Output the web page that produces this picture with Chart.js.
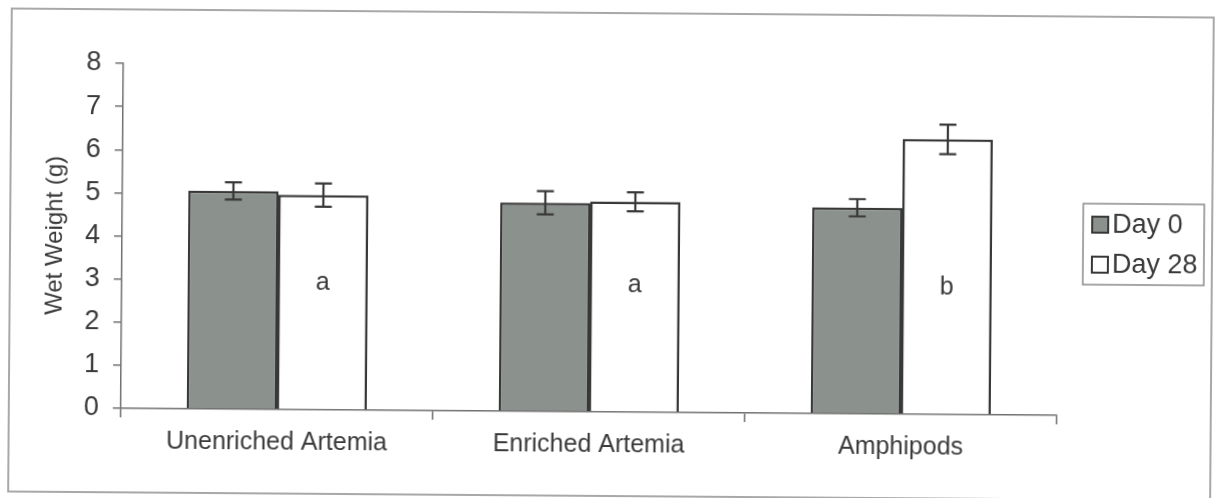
<!DOCTYPE html>
<html>
<head>
<meta charset="utf-8">
<script src="https://cdn.jsdelivr.net/npm/chart.js@4/dist/chart.umd.min.js"></script>
<style>
  html, body { margin: 0; padding: 0; background: #fff; overflow: hidden; }
  #wrap { width: 1217px; height: 498px; transform: rotate(0.43deg); transform-origin: 608px 249px; }
</style>
</head>
<body>
<div id="wrap"><canvas id="chart" width="1217" height="498"></canvas></div>
<script>
// data
const categories = ['Unenriched Artemia', 'Enriched Artemia', 'Amphipods'];
const day0 = [5.06, 4.84, 4.78];
const day0Err = [0.2, 0.27, 0.2];
const day28 = [4.98, 4.88, 6.38];
const day28Err = [0.27, 0.22, 0.34];
const letters = ['a', 'a', 'b'];
const yTicks = [0, 1, 2, 3, 4, 5, 6, 7, 8];

const ink = '#383838';
const axisCol = '#707070';
const textCol = '#3a3a3a';
const fontFam = '"Liberation Sans", Arial, sans-serif';

// error bars, drawn through the y scale
const errorBars = {
    id: 'errorBars',
    afterDatasetsDraw(chart) {
        const ctx = chart.ctx;
        const y = chart.scales.y;
        const errs = [day0Err, day28Err];
        ctx.save();
        ctx.strokeStyle = ink;
        ctx.lineWidth = 2.2;
        chart.data.datasets.forEach((ds, di) => {
            chart.getDatasetMeta(di).data.forEach((bar, i) => {
                const v = ds.data[i], e = errs[di][i];
                const top = y.getPixelForValue(v + e);
                const bot = y.getPixelForValue(v - e);
                ctx.beginPath();
                ctx.moveTo(bar.x, top); ctx.lineTo(bar.x, bot);
                ctx.moveTo(bar.x - 8.5, top); ctx.lineTo(bar.x + 8.5, top);
                ctx.moveTo(bar.x - 8.5, bot); ctx.lineTo(bar.x + 8.5, bot);
                ctx.stroke();
            });
        });
        ctx.restore();
    }
};

// significance letters inside the Day 28 bars
const letterLabels = {
    id: 'letterLabels',
    afterDatasetsDraw(chart) {
        const ctx = chart.ctx;
        const y = chart.scales.y.getPixelForValue(2.95);
        ctx.save();
        ctx.fillStyle = textCol;
        ctx.font = '25px ' + fontFam;
        ctx.textAlign = 'center';
        ctx.textBaseline = 'middle';
        chart.getDatasetMeta(1).data.forEach((bar, i) => {
            ctx.fillText(letters[i], bar.x, y);
        });
        ctx.restore();
    }
};

// boxed legend and outer frame
const frameLegend = {
    id: 'frameLegend',
    afterDraw(chart) {
        const ctx = chart.ctx;
        ctx.save();
        ctx.strokeStyle = '#a8a8a8';
        ctx.lineWidth = 2;
        ctx.strokeRect(10, 13, 1202, 483);

        ctx.strokeStyle = '#8a8a8a';
        ctx.lineWidth = 1.5;
        ctx.strokeRect(1083, 200, 121, 81);
        ctx.font = '27px ' + fontFam;
        ctx.textBaseline = 'middle';
        chart.data.datasets.forEach((ds, i) => {
            const cy = 221 + i * 40;
            ctx.fillStyle = ds.backgroundColor;
            ctx.fillRect(1092, cy - 8, 16, 16);
            ctx.strokeStyle = ink;
            ctx.lineWidth = 2;
            ctx.strokeRect(1092, cy - 8, 16, 16);
            ctx.fillStyle = textCol;
            ctx.fillText(ds.label, 1112, cy + 1);
        });
        ctx.restore();
    }
};

new Chart(document.getElementById('chart'), {
    type: 'bar',
    data: {
        labels: categories,
        datasets: [
            {
                label: 'Day 0',
                data: day0,
                backgroundColor: '#8b918c',
                borderColor: ink,
                borderWidth: 2.5,
                barPercentage: 1,
                categoryPercentage: 0.577
            },
            {
                label: 'Day 28',
                data: day28,
                backgroundColor: '#ffffff',
                borderColor: ink,
                borderWidth: 2.5,
                barPercentage: 1,
                categoryPercentage: 0.577
            }
        ]
    },
    options: {
        responsive: false,
        animation: false,
        layout: { padding: { left: 0, top: 67, right: 159, bottom: 0 } },
        plugins: {
            legend: { display: false },
            tooltip: { enabled: false }
        },
        scales: {
            x: {
                grid: { drawOnChartArea: false, tickLength: 9, color: axisCol, lineWidth: 1.5 },
                border: { color: axisCol, width: 1.5 },
                ticks: {
                    color: textCol,
                    padding: 9,
                    maxRotation: 0,
                    font: { family: fontFam, size: 25 }
                },
                afterFit: s => { s.height = 86; }
            },
            y: {
                min: 0,
                max: 8,
                afterBuildTicks: s => { s.ticks = yTicks.map(v => ({ value: v })); },
                grid: { drawOnChartArea: false, tickLength: 8, color: axisCol, lineWidth: 1.5 },
                border: { color: axisCol, width: 1.5 },
                ticks: {
                    color: textCol,
                    padding: 14,
                    font: { family: fontFam, size: 27 }
                },
                title: {
                    display: true,
                    text: 'Wet Weight (g)',
                    color: textCol,
                    font: { family: fontFam, size: 24 },
                    padding: { top: 41, bottom: 0 }
                },
                afterFit: s => { s.width = 122; }
            }
        }
    },
    plugins: [errorBars, letterLabels, frameLegend]
});
</script>
</body>
</html>
